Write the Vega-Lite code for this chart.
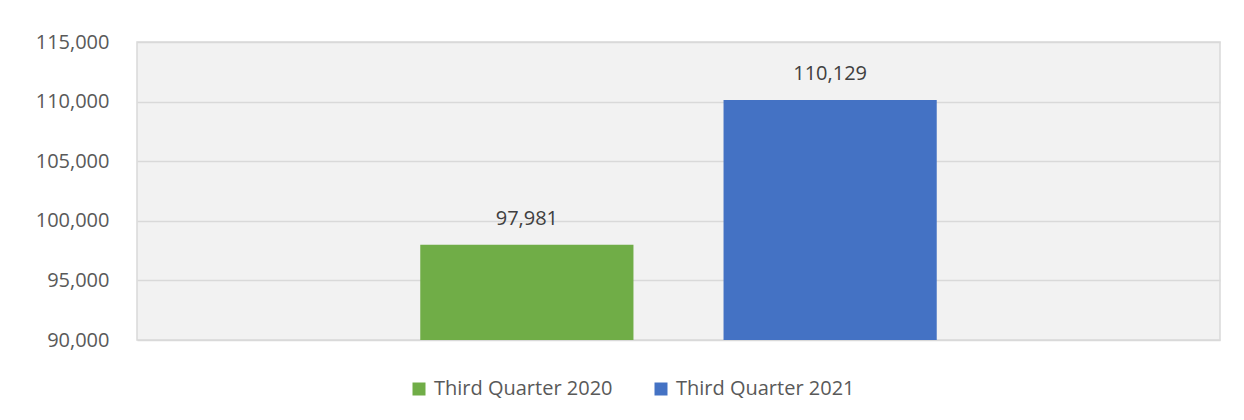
{
  "$schema": "https://vega.github.io/schema/vega-lite/v6.json",
  "width": 1083,
  "height": 298,
  "autosize": {"type": "none"},
  "padding": {"left": 137, "top": 42, "right": 24, "bottom": 80},
  "background": "white",
  "data": {
    "values": [
      {"period": "Third Quarter 2020", "value": 97981},
      {"period": "Third Quarter 2021", "value": 110129}
    ]
  },
  "config": {
    "font": "Open Sans",
    "view": {"fill": "#f2f2f2", "stroke": "#d9d9d9", "strokeWidth": 1.5}
  },
  "encoding": {
    "x": {
      "field": "period",
      "type": "nominal",
      "scale": {"paddingInner": 0.297, "paddingOuter": 0.934},
      "axis": null
    },
    "y": {
      "field": "value",
      "type": "quantitative",
      "scale": {"domain": [90000, 115000], "nice": false, "zero": false},
      "axis": {
        "values": [90000, 95000, 100000, 105000, 110000, 115000],
        "format": ",.0f",
        "title": null,
        "domain": false,
        "ticks": false,
        "labelPadding": 28,
        "labelFontSize": 20,
        "labelColor": "#595959",
        "labelFont": "Open Sans",
        "gridColor": "#d9d9d9",
        "gridWidth": 1.5
      }
    }
  },
  "layer": [
    {
      "mark": {"type": "bar"},
      "encoding": {
        "y2": {"datum": 90000},
        "color": {
          "field": "period",
          "type": "nominal",
          "scale": {"range": ["#70AD47", "#4472C4"]},
          "legend": {
            "title": null,
            "orient": "none",
            "legendX": 272,
            "legendY": 337,
            "direction": "horizontal",
            "symbolType": "square",
            "symbolSize": 169,
            "symbolStrokeWidth": 0,
            "symbolOpacity": 1,
            "labelFontSize": 20,
            "labelLimit": 400,
            "labelColor": "#595959",
            "labelFont": "Open Sans",
            "labelOffset": 5,
            "columnPadding": 38
          }
        }
      }
    },
    {
      "mark": {"type": "text", "dy": -26, "fontSize": 20, "color": "#404040", "font": "Open Sans"},
      "encoding": {
        "text": {"field": "value", "type": "quantitative", "format": ",.0f"}
      }
    }
  ]
}
